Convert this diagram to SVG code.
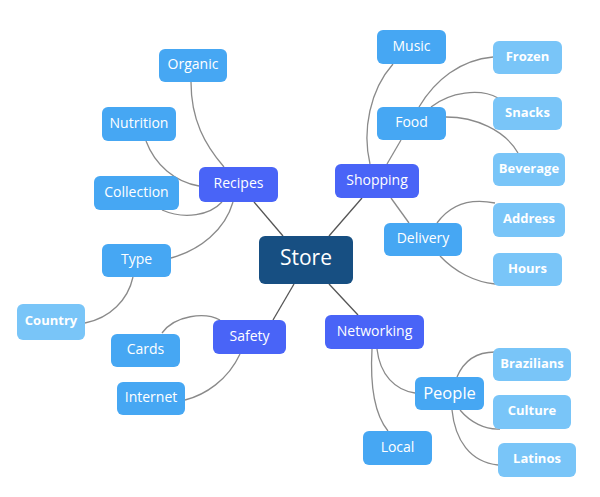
<svg xmlns="http://www.w3.org/2000/svg" width="600" height="497" viewBox="0 0 600 497">
<style>
  .n rect { rx: 6px; ry: 6px; }
  .root rect { fill: #174F82; }
  .l1 rect { fill: #4964F7; }
  .l2 rect { fill: #46A7F3; }
  .l3 rect { fill: #79C5F8; }
  text { font-family: "Open Sans", "Liberation Sans", sans-serif; fill: #ffffff; text-anchor: middle; dominant-baseline: central; }
  .n text { font-size: 14px; }
  .root text { font-size: 21px; }
  .l3 text { font-size: 13px; font-weight: bold; }
  .big text { font-size: 16.5px; }
  .c path { fill: none; stroke: #8a8a8a; stroke-width: 1.3; }
  .c path.d { stroke: #555; }
</style>
<rect width="600" height="497" fill="#ffffff"/>
<g id="connectors" class="c">
  <path d="M191,82 C191,120 205,145 224,167"/>
  <path d="M146,141 C155,165 175,182 199,186"/>
  <path d="M162,210 C185,220 210,215 222,202"/>
  <path d="M233,202 C225,230 200,250 171,258"/>
  <path d="M133,277 C128,300 110,318 85,323"/>
  <path class="d" d="M254,202 L283,236"/>
  <path class="d" d="M294,284 L273,320"/>
  <path d="M162,333 C175,315 205,312 220,320"/>
  <path d="M240,354 C228,380 205,395 185,400"/>
  <path class="d" d="M329,236 L362,198"/>
  <path d="M370,164 C362,130 370,90 393,64"/>
  <path d="M387,164 L401,140"/>
  <path d="M419,107 C435,80 460,60 493,57"/>
  <path d="M431,107 C450,92 480,88 498,98"/>
  <path d="M446,117 C475,117 505,130 518,153"/>
  <path d="M391,198 L409,223"/>
  <path d="M437,223 C450,205 470,198 495,203"/>
  <path d="M440,256 C455,272 475,282 495,284"/>
  <path class="d" d="M329,284 L358,315"/>
  <path d="M377,349 C380,375 395,390 415,393"/>
  <path d="M372,349 C370,385 375,415 388,431"/>
  <path d="M457,377 C465,358 480,352 495,352"/>
  <path d="M460,410 C470,422 485,430 500,429"/>
  <path d="M452,410 C455,440 470,462 498,465"/>
</g>
<g id="store" class="n root"><rect x="259" y="236" width="94" height="48" rx="8" ry="8"/><text x="306" y="257">Store</text></g>
<g id="recipes" class="n l1"><rect x="199" y="167" width="79" height="35"/><text x="238.5" y="182.5">Recipes</text></g>
<g id="shopping" class="n l1"><rect x="335" y="164" width="84" height="34"/><text x="377" y="179">Shopping</text></g>
<g id="safety" class="n l1"><rect x="213" y="320" width="73" height="34"/><text x="249.5" y="335">Safety</text></g>
<g id="networking" class="n l1"><rect x="325" y="315" width="99" height="34"/><text x="374.5" y="330">Networking</text></g>
<g id="organic" class="n l2"><rect x="159" y="49" width="68" height="33"/><text x="193" y="63.5">Organic</text></g>
<g id="nutrition" class="n l2"><rect x="102" y="107" width="74" height="34"/><text x="139" y="122">Nutrition</text></g>
<g id="collection" class="n l2"><rect x="94" y="176" width="85" height="34"/><text x="136.5" y="191">Collection</text></g>
<g id="type" class="n l2"><rect x="102" y="244" width="69" height="33"/><text x="136.5" y="258.5">Type</text></g>
<g id="cards" class="n l2"><rect x="111" y="334" width="69" height="33"/><text x="145.5" y="348.5">Cards</text></g>
<g id="internet" class="n l2"><rect x="117" y="382" width="68" height="33"/><text x="151" y="396.5">Internet</text></g>
<g id="music" class="n l2"><rect x="377" y="30" width="69" height="34"/><text x="411.5" y="45">Music</text></g>
<g id="food" class="n l2"><rect x="377" y="107" width="69" height="33"/><text x="411.5" y="121.5">Food</text></g>
<g id="delivery" class="n l2"><rect x="384" y="223" width="78" height="33"/><text x="423" y="237.5">Delivery</text></g>
<g id="people" class="n l2 big"><rect x="415" y="377" width="69" height="33"/><text x="449.5" y="392">People</text></g>
<g id="local" class="n l2"><rect x="363" y="431" width="69" height="34"/><text x="397.5" y="446">Local</text></g>
<g id="country" class="n l3"><rect x="17" y="304" width="68" height="36"/><text x="51" y="320">Country</text></g>
<g id="frozen" class="n l3"><rect x="493" y="41" width="69" height="33"/><text x="527.5" y="55.5">Frozen</text></g>
<g id="snacks" class="n l3"><rect x="493" y="97" width="69" height="33"/><text x="527.5" y="111.5">Snacks</text></g>
<g id="beverage" class="n l3"><rect x="493" y="153" width="72" height="33"/><text x="529" y="167.5">Beverage</text></g>
<g id="address" class="n l3"><rect x="493" y="203" width="72" height="34"/><text x="529" y="218">Address</text></g>
<g id="hours" class="n l3"><rect x="493" y="253" width="69" height="33"/><text x="527.5" y="267.5">Hours</text></g>
<g id="brazilians" class="n l3"><rect x="493" y="348" width="78" height="33"/><text x="532" y="362.5">Brazilians</text></g>
<g id="culture" class="n l3"><rect x="493" y="395" width="78" height="34"/><text x="532" y="410">Culture</text></g>
<g id="latinos" class="n l3"><rect x="498" y="443" width="78" height="34"/><text x="537" y="458">Latinos</text></g>
</svg>
